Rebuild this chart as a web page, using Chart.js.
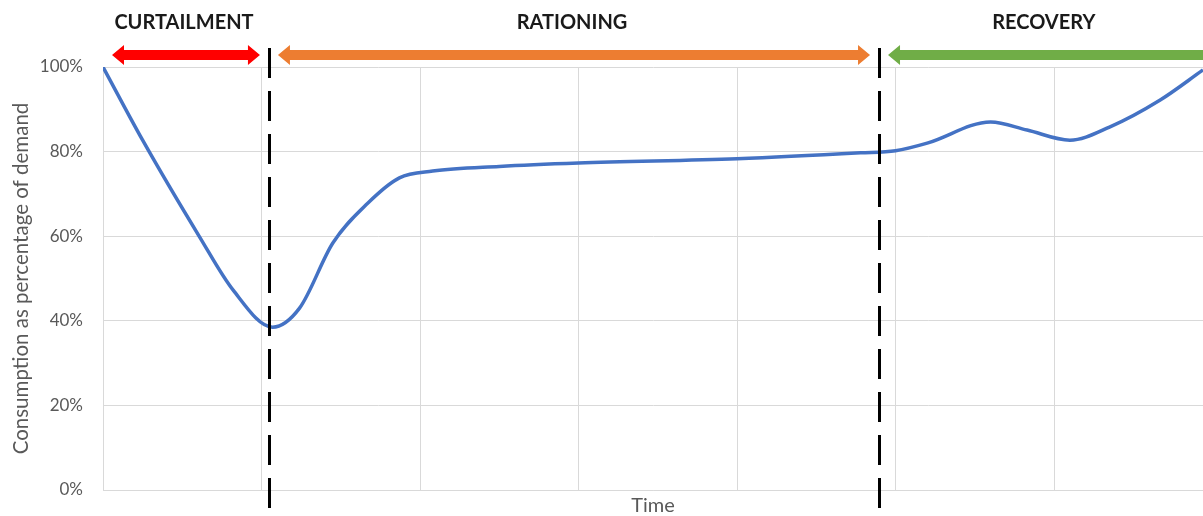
<!DOCTYPE html>
<html>
<head>
<meta charset="utf-8">
<title>Consumption as percentage of demand</title>
<script src="https://cdn.jsdelivr.net/npm/chart.js@4"></script>
<style>
    html, body { margin: 0; padding: 0; background: #fff; }
    #wrap { width: 1203px; height: 516px; }
</style>
</head>
<body>
<div id="wrap"><canvas id="consumptionChart" width="1203" height="516"></canvas></div>
<script>
// values (x in time units, one unit per vertical grid line)
const timeValues = [0, 0.25, 0.61, 0.82, 1.07, 1.24, 1.45, 1.67, 1.87, 2.08, 2.5, 3.0, 4.0, 4.78, 5.0, 5.2, 5.6, 5.83, 6.1, 6.35, 6.67, 6.94];
const consumption = [100, 82.7, 59.8, 47.3, 38.5, 43, 58.4, 67.8, 73.8, 75.4, 76.5, 77.3, 78.3, 79.7, 80.2, 82, 87, 85.1, 82.7, 85.8, 92.2, 99.3];
const yTicks = [0, 20, 40, 60, 80, 100];

const phaseLabels = ['CURTAILMENT', 'RATIONING', 'RECOVERY'];
const phaseStart = [0, 1.047, 4.896];
const phaseEnd = [1.047, 4.896, 7];
const phaseBoundaries = [1.047, 4.896];

const FONT = "Lato, 'Open Sans', sans-serif";

function drawArrow(ctx, x1, x2, y, color, leftHead, rightHead) {
    const shaft = 5, head = 10, headLen = 12;
    const a = leftHead ? x1 + headLen : x1;
    const b = rightHead ? x2 - headLen : x2;
    ctx.fillStyle = color;
    ctx.beginPath();
    if (leftHead) {
        ctx.moveTo(x1, y);
        ctx.lineTo(a, y - head);
        ctx.lineTo(a, y - shaft);
    } else {
        ctx.moveTo(x1, y - shaft);
    }
    if (rightHead) {
        ctx.lineTo(b, y - shaft);
        ctx.lineTo(b, y - head);
        ctx.lineTo(x2, y);
        ctx.lineTo(b, y + head);
        ctx.lineTo(b, y + shaft);
    } else {
        ctx.lineTo(x2, y - shaft);
        ctx.lineTo(x2, y + shaft);
    }
    if (leftHead) {
        ctx.lineTo(a, y + shaft);
        ctx.lineTo(a, y + head);
        ctx.closePath();
    } else {
        ctx.lineTo(x1, y + shaft);
        ctx.closePath();
    }
    ctx.fill();
}

const phasePlugin = {
    id: 'phases',
    afterDatasetsDraw(chart, args, opts) {
        const ctx = chart.ctx;
        const x = chart.scales.x;
        const gap = 9;
        ctx.save();

        // phase arrows and titles
        phaseLabels.forEach((label, i) => {
            const left = x.getPixelForValue(phaseStart[i]) + gap;
            const right = x.getPixelForValue(phaseEnd[i]) - gap;
            const st = opts.arrows[i];
            drawArrow(ctx, left, right, 55, st.color, st.left, st.right);

            ctx.fillStyle = '#1a1a1a';
            ctx.font = 'bold 20px ' + FONT;
            ctx.textAlign = 'center';
            ctx.textBaseline = 'middle';
            ctx.fillText(label, (left + right) / 2 - 2, 23);
        });

        // dashed phase boundaries
        ctx.strokeStyle = '#000';
        ctx.lineWidth = 3;
        ctx.setLineDash([30, 13]);
        phaseBoundaries.forEach(b => {
            const px = Math.round(x.getPixelForValue(b)) + 0.5;
            ctx.beginPath();
            ctx.moveTo(px, 48);
            ctx.lineTo(px, 508);
            ctx.stroke();
        });
        ctx.restore();
    }
};

const ctx = document.getElementById('consumptionChart').getContext('2d');
new Chart(ctx, {
    type: 'line',
    data: {
        datasets: [{
            label: 'Consumption',
            data: timeValues.map((t, i) => ({ x: t, y: consumption[i] })),
            borderColor: '#4472C4',
            borderWidth: 3.5,
            pointRadius: 0,
            cubicInterpolationMode: 'monotone',
            fill: false
        }]
    },
    options: {
        responsive: false,
        animation: false,
        layout: { padding: { top: 67, left: 0, right: 0, bottom: 0 } },
        plugins: {
            legend: { display: false },
            tooltip: { enabled: false },
            phases: {
                arrows: [
                    { color: '#FF0000', left: true, right: true },
                    { color: '#ED7D31', left: true, right: true },
                    { color: '#70AD47', left: true, right: false }
                ]
            }
        },
        scales: {
            x: {
                type: 'linear',
                min: 0,
                max: 6.94,
                ticks: { display: false, stepSize: 1 },
                grid: {
                    drawTicks: false,
                    color: c => (c.tick && Number.isInteger(c.tick.value)) ? '#D9D9D9' : 'rgba(0,0,0,0)'
                },
                border: { color: '#D9D9D9' },
                title: {
                    display: true,
                    text: 'Time',
                    color: '#595959',
                    font: { family: FONT, size: 20, lineHeight: 1 },
                    padding: { top: 0, bottom: 0 }
                },
                afterFit: scale => { scale.height = 26; }
            },
            y: {
                min: 0,
                max: 100,
                afterBuildTicks: scale => { scale.ticks = yTicks.map(v => ({ value: v })); },
                ticks: {
                    color: '#595959',
                    font: { family: FONT, size: 17 },
                    padding: 20,
                    callback: v => v + '%'
                },
                grid: { drawTicks: false, color: '#D9D9D9' },
                border: { color: '#D9D9D9' },
                title: {
                    display: true,
                    text: 'Consumption as percentage of demand',
                    color: '#595959',
                    font: { family: FONT, size: 20.5, lineHeight: 1.2 },
                    padding: { top: 9, bottom: 0 }
                },
                afterFit: scale => {
                    scale.width = 103;
                    scale.paddingTop = 0;
                    scale.paddingBottom = 0;
                }
            }
        }
    },
    plugins: [phasePlugin]
});
</script>
</body>
</html>
